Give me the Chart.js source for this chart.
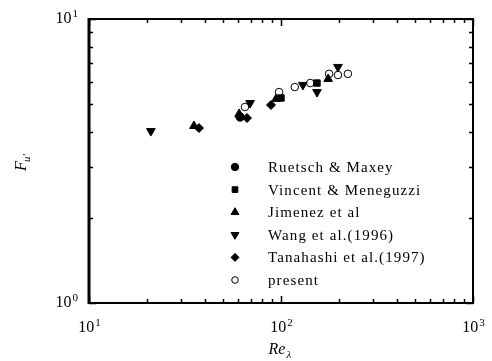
<!DOCTYPE html>
<html>
<head>
<meta charset="utf-8">
<script src="https://cdn.jsdelivr.net/npm/chart.js@4.4.0/dist/chart.umd.min.js"></script>
<style>
  html, body { margin: 0; padding: 0; background: #fff; }
  #wrap { width: 492px; height: 361px; position: relative; }
</style>
</head>
<body>
<div id="wrap"><canvas id="chart"></canvas></div>
<script>
// values (Re_lambda, F_u')
const ruetschRe = [61.2];
const ruetschF = [4.52];
const vincentRe = [100, 154];
const vincentF = [5.27, 5.95];
const jimenezRe = [35.2, 60.5, 94.2, 176];
const jimenezF = [4.20, 4.63, 5.23, 6.15];
const wangRe = [21.0, 69.0, 130, 154, 198];
const wangF = [4.03, 5.06, 5.86, 5.53, 6.78];
const tanahashiRe = [37.4, 66.5, 88.7];
const tanahashiF = [4.13, 4.48, 4.98];
const presentRe = [64.9, 97.7, 118, 142, 178, 198, 223];
const presentF = [4.90, 5.53, 5.76, 5.95, 6.41, 6.35, 6.41];

const xTickValues = [10, 100, 1000];
const xTickExp = ['1', '2', '3'];
const yTickValues = [1, 10];
const yTickExp = ['0', '1'];

const pts = (xs, ys) => xs.map((x, i) => ({ x: x, y: ys[i] }));

function ds(label, xs, ys, style, rot, radius, hollow) {
    return {
        label: label,
        data: pts(xs, ys),
        pointStyle: style,
        rotation: rot,
        pointRadius: radius,
        pointHoverRadius: radius,
        backgroundColor: hollow ? '#fff' : '#000',
        borderColor: '#000',
        borderWidth: 1,
        showLine: false
    };
}

const serif = '"Liberation Serif", "Times New Roman", serif';

const framePlugin = {
    id: 'frame',
    afterDraw(chart) {
        const ctx = chart.ctx;
        const a = chart.chartArea;
        const xs = chart.scales.x, ys = chart.scales.y;
        ctx.save();
        ctx.strokeStyle = '#000';
        // minor / major ticks, inward on all four sides
        ctx.lineWidth = 1.5;
        ctx.beginPath();
        for (let d = 10; d < 1000; d *= 10) {
            for (let m = 1; m <= 10; m++) {
                const px = Math.round(xs.getPixelForValue(d * m)) + 0.5;
                const len = (m === 1 || m === 10) ? 7 : 4;
                ctx.moveTo(px, a.bottom); ctx.lineTo(px, a.bottom - len);
                ctx.moveTo(px, a.top); ctx.lineTo(px, a.top + len);
            }
        }
        for (let m = 1; m <= 10; m++) {
            const py = Math.round(ys.getPixelForValue(m)) + 0.5;
            const len = (m === 1 || m === 10) ? 7 : 4;
            ctx.moveTo(a.left, py); ctx.lineTo(a.left + len, py);
            ctx.moveTo(a.right, py); ctx.lineTo(a.right - len, py);
        }
        ctx.stroke();
        // frame
        ctx.lineWidth = 2;
        ctx.beginPath();
        ctx.moveTo(a.left, a.top); ctx.lineTo(a.right, a.top);
        ctx.lineTo(a.right, a.bottom); ctx.lineTo(a.left, a.bottom);
        ctx.stroke();
        ctx.lineWidth = 3;
        ctx.beginPath();
        ctx.moveTo(a.left, a.top - 1); ctx.lineTo(a.left, a.bottom + 1);
        ctx.stroke();

        // tick labels with superscripts
        ctx.fillStyle = '#000';
        ctx.textBaseline = 'middle';
        function power(x, y, exp, align) {
            ctx.font = '16px ' + serif;
            const w1 = ctx.measureText('10').width;
            ctx.font = '11px ' + serif;
            const w2 = ctx.measureText(exp).width;
            let left = align === 'right' ? x - w1 - w2 : x - (w1 + w2) / 2;
            ctx.textAlign = 'left';
            ctx.font = '16px ' + serif;
            ctx.fillText('10', left, y);
            ctx.font = '11px ' + serif;
            ctx.fillText(exp, left + w1 + 1, y - 5);
        }
        xTickValues.forEach((v, i) => power(xs.getPixelForValue(v), a.bottom + 25, xTickExp[i], 'center'));
        yTickValues.forEach((v, i) => power(a.left - 12, ys.getPixelForValue(v), yTickExp[i], 'right'));

        // axis titles
        ctx.font = 'italic 16px ' + serif;
        ctx.textAlign = 'left';
        const cx = (a.left + a.right) / 2;
        const rw = ctx.measureText('Re').width;
        ctx.fillText('Re', cx - rw / 2 - 4, a.bottom + 47);
        ctx.font = 'italic 11px ' + serif;
        ctx.fillText('λ', cx + rw / 2 - 3, a.bottom + 52);

        ctx.translate(22, (a.top + a.bottom) / 2 + 4);
        ctx.rotate(-Math.PI / 2);
        ctx.font = 'italic 16px ' + serif;
        ctx.fillText('F', -6, 0);
        ctx.font = 'italic 11px ' + serif;
        ctx.fillText("u'", 3, 5);
        ctx.restore();

        // legend inside plot
        ctx.save();
        ctx.font = '15px ' + serif;
        if ('letterSpacing' in ctx) ctx.letterSpacing = '1.1px';
        ctx.textAlign = 'left';
        ctx.textBaseline = 'middle';
        chart.data.datasets.forEach((d, i) => {
            const y = 167 + i * 22.6;
            const x = 235;
            ctx.fillStyle = d.backgroundColor;
            ctx.strokeStyle = '#000';
            ctx.lineWidth = 1;
            Chart.helpers.drawPoint(ctx, {
                pointStyle: d.pointStyle,
                rotation: d.rotation,
                radius: d.pointRadius - 0.5,
                borderWidth: 1
            }, x, y);
            ctx.fillStyle = '#000';
            ctx.fillText(d.label, 268, y + 1);
        });
        ctx.restore();
    }
};

new Chart(document.getElementById('chart'), {
    type: 'scatter',
    data: {
        datasets: [
            ds('Ruetsch & Maxey', ruetschRe, ruetschF, 'circle', 0, 4.2, false),
            ds('Vincent & Meneguzzi', vincentRe, vincentF, 'rect', 0, 4.5, false),
            ds('Jimenez et al', jimenezRe, jimenezF, 'triangle', 0, 5, false),
            ds('Wang et al.(1996)', wangRe, wangF, 'triangle', 180, 5, false),
            ds('Tanahashi et al.(1997)', tanahashiRe, tanahashiF, 'rectRot', 0, 4.5, false),
            ds('present', presentRe, presentF, 'circle', 0, 3.8, true)
        ]
    },
    options: {
        responsive: true,
        maintainAspectRatio: false,
        animation: false,
        layout: {
            padding: { left: 89, top: 19, right: 19, bottom: 58 }
        },
        plugins: {
            legend: { display: false },
            tooltip: { enabled: false }
        },
        scales: {
            x: { type: 'logarithmic', min: 10, max: 1000, display: false },
            y: { type: 'logarithmic', min: 1, max: 10, display: false }
        }
    },
    plugins: [framePlugin]
});
</script>
</body>
</html>
